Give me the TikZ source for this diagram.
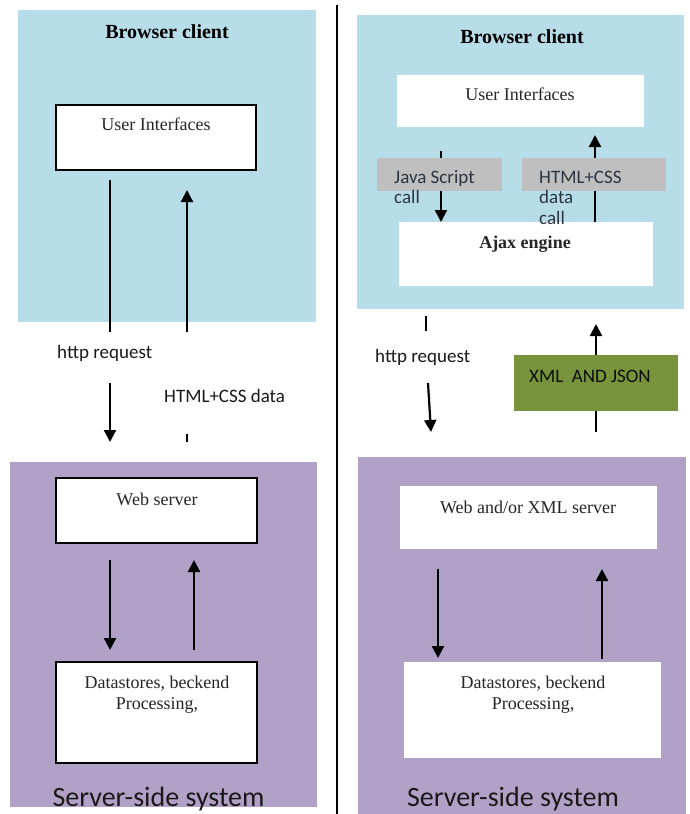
\documentclass[tikz,border=0pt]{standalone}
\usepackage{fontspec}
\setmainfont{Liberation Serif}
\newfontfamily\carlito{Carlito}
\usetikzlibrary{arrows.meta,fit}
\definecolor{clientblue}{HTML}{B7DDE8}
\definecolor{serverpurple}{HTML}{B2A1C7}
\definecolor{callgray}{HTML}{BFBFBF}
\definecolor{xmlgreen}{HTML}{77933C}
\definecolor{calltext}{HTML}{2B3640}
\begin{document}
\begin{tikzpicture}[x=1pt,y=-1pt,
  panel/.style={draw=none,inner sep=0pt,outer sep=0pt},
  framed/.style={panel,fill=white,draw=black,line width=1.3pt},
  plainbox/.style={panel,fill=white},
  title/.style={font=\bfseries\fontsize{20}{24}\selectfont,anchor=base,inner sep=0pt},
  boxtext/.style={font=\fontsize{18}{21.5}\selectfont,inner sep=0pt,text=black!85},
  note/.style={font=\carlito\fontsize{19}{20.5}\selectfont,inner sep=0pt,text=black!90},
  footer/.style={font=\carlito\fontsize{28}{30}\selectfont,anchor=base,inner sep=0pt,text=black!90},
  arr/.style={line width=2.2pt,-{Triangle[width=12pt,length=12pt]}},
  seg/.style={line width=2.2pt}]
\useasboundingbox (0,0) rectangle (689,814);

% ---------------- classic model ----------------
\node[panel,fill=clientblue,fit={(18,10) (316,322)}] (clientL) {};
\node[title] (clientLt) at (167,38) {Browser client};
\node[framed,fit={(56,105) (256,170)}] (uiL) {};
\node[boxtext,anchor=base] (uiLt) at (156,130) {User Interfaces};

\node[panel,fill=serverpurple,fit={(10,462) (317,807)}] (serverL) {};
\node[framed,fit={(56,478) (257,543)}] (wsL) {};
\node[boxtext,anchor=base] (wsLt) at (157,505) {Web server};
\node[framed,fit={(56,662) (257,763)}] (dsL) {};
\node[boxtext,anchor=north,align=center] (dsLt) at (157,675.7) {Datastores, beckend\\Processing,};
\node[footer] (footL) at (158.5,806) {Server-side system};

% request path
\coordinate (reqL1) at (110,180);
\coordinate (reqL2) at (110,332);
\coordinate (reqL3) at (110,383);
\coordinate (reqL4) at (110,442);
\draw[seg] (reqL1) -- (reqL2);
\draw[arr] (reqL3) -- (reqL4);
\node[note,anchor=base west] (httpL) at (57,358) {http request};

% response path
\coordinate (resL1) at (187,442);
\coordinate (resL2) at (187,434);
\coordinate (resL3) at (187,332);
\coordinate (resL4) at (187,190);
\draw[seg] (resL1) -- (resL2);
\draw[arr] (resL3) -- (resL4);
\node[note,anchor=base west] (htmlL) at (164,402) {HTML+CSS data};

% inside the server
\coordinate (sdL) at (110,560);
\coordinate (suL) at (194,650);
\draw[arr] (sdL) -- (sdL |- 0,650);
\draw[arr] (suL) -- (suL |- 0,560);

% divider
\coordinate (divTop) at (337,5);
\coordinate (divBot) at (337,814);
\draw[line width=1.5pt] (divTop) -- (divBot);

% ---------------- Ajax model ----------------
\node[panel,fill=clientblue,fit={(357,15) (684,309)}] (clientR) {};
\node[title] (clientRt) at (522,43) {Browser client};
\node[plainbox,fit={(397,75) (644,127)}] (uiR) {};
\node[boxtext,anchor=base] (uiRt) at (520,100) {User Interfaces};
\node[plainbox,fit={(399,222) (653,286)}] (ajax) {};
\node[boxtext,font=\bfseries\fontsize{18}{21.5}\selectfont,anchor=base] (ajaxt) at (525,248) {Ajax engine};

% calls between UI and engine (lines pass under the grey bars)
\coordinate (jsTop) at (441,151);
\draw[arr] (jsTop) -- (jsTop |- ajax.north);
\coordinate (htTip) at (595,135);
\draw[arr] (htTip |- ajax.north) -- (htTip);
\node[panel,fill=callgray,fit={(377,158) (502,191)}] (jsbar) {};
\node[panel,fill=callgray,fit={(522,158) (666,191)}] (htbar) {};
\node[note,text=calltext,anchor=north west,align=left] (jst) at (394,170) {Java Script\\call};
\node[note,text=calltext,anchor=north west,align=left] (htt) at (539,170.8) {HTML+CSS\\data\\call};

% request path
\coordinate (reqR1) at (426,316);
\coordinate (reqR2) at (426,331);
\coordinate (reqR3) at (428,383);
\coordinate (reqR4) at (431,432);
\draw[seg] (reqR1) -- (reqR2);
\draw[arr] (reqR3) -- (reqR4);
\node[note,anchor=base west] (httpR) at (375,362) {http request};

% XML / JSON response
\node[panel,fill=xmlgreen,fit={(514,355) (678,411)}] (xml) {};
\node[note,anchor=base west,text=black!95] (xmlt) at (529,382) {XML\ \ AND JSON};
\coordinate (xmlTip) at (596,324);
\coordinate (xmlLow) at (596,432);
\draw[arr] (xmlTip |- xml.north) -- (xmlTip);
\draw[seg] (xmlLow) -- (xmlLow |- xml.south);

\node[panel,fill=serverpurple,fit={(358,457) (686,814)}] (serverR) {};
\node[plainbox,fit={(400,486) (657,549)}] (wsR) {};
\node[boxtext,anchor=base] (wsRt) at (528,513) {Web and/or XML server};
\node[plainbox,fit={(404,662) (661,758)}] (dsR) {};
\node[boxtext,anchor=north,align=center] (dsRt) at (533,675.7) {Datastores, beckend\\Processing,};
\node[footer] (footR) at (513,806) {Server-side system};

\coordinate (sdR) at (438,569);
\coordinate (suR) at (602,659);
\draw[arr] (sdR) -- (sdR |- 0,658);
\draw[arr] (suR) -- (suR |- 0,569);
\end{tikzpicture}
\end{document}
